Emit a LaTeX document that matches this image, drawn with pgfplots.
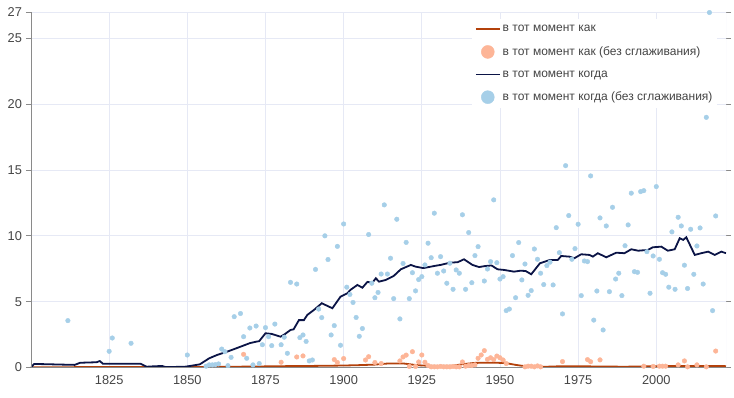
\documentclass[border=0pt]{standalone}
\usepackage{fontspec}
\setmainfont{Liberation Sans}
\usepackage{pgfplots}
\pgfplotsset{compat=1.18}
\definecolor{kakline}{HTML}{B3410B}
\definecolor{kakdot}{HTML}{FDB597}
\definecolor{kogline}{HTML}{0B1446}
\definecolor{kogdot}{HTML}{A6CFE8}
\definecolor{gridc}{HTML}{E6E9F5}
\definecolor{labgray}{HTML}{444444}
\definecolor{axgray}{HTML}{8A8A8A}
\begin{document}
\begin{tikzpicture}
\path[use as bounding box] (-31pt,-29.5pt) rectangle (703pt,367.5pt);
\begin{axis}[
  scale only axis, width=695pt, height=355.5pt,
  anchor=south west, at={(0pt,0pt)},
  xmin=1800, xmax=2022.3, ymin=0, ymax=27,
  axis line style={draw=none},
  xtick={1825,1850,1875,1900,1925,1950,1975,2000},
  ytick={0,5,10,15,20,25,27},
  grid=major, major grid style={color=gridc, line width=0.8pt},
  tick align=outside, major tick length=5pt,
  xtick style={draw=none},
  ytick style={color=axgray, line width=0.8pt},
  tick label style={font=\fontsize{12.8}{14}\selectfont, color=labgray},
  /pgf/number format/assume math mode=true,
  /pgf/number format/1000 sep={},
  yticklabel style={xshift=-0.5pt},
  legend cell align=left,
  legend style={at={(0.988,0.980)}, anchor=north east, draw=none, fill=white,
    font=\fontsize{12}{14}\selectfont, text=labgray, row sep=9.5pt,
    inner xsep=3pt, inner ysep=4pt},
]
\addplot[kakline, line width=1.8pt, legend image code/.code={\draw[kakline,line width=1.8pt] (0pt,0pt) -- (24pt,0pt);}] coordinates {
(1800,0) (1801,0.02) (1820,0.03) (1850,0.03) (1860,0.05) (1870,0.07) (1880,0.1) (1890,0.12) (1900,0.15) (1905,0.18) (1910,0.22) (1914,0.3) (1919,0.31) (1922,0.22) (1925,0.15) (1930,0.12) (1935,0.14) (1938,0.25) (1942,0.35) (1948,0.37) (1952,0.33) (1955,0.2) (1958,0.1) (1962,0.05) (1965,0.06) (1970,0.1) (1975,0.1) (1980,0.08) (1985,0.07) (1990,0.06) (1995,0.08) (2000,0.1) (2005,0.12) (2010,0.12) (2015,0.12) (2020,0.12) (2022.3,0.1)
};
\addlegendentry{в тот момент как}
\addplot[only marks, mark=*, mark size=2.3pt, color=kakdot, legend image code/.code={\fill[kakdot] (12pt,0pt) circle (6.5pt);}] coordinates {
(1868,1.0) (1880,0.4) (1885,0.8) (1887,0.88) (1897,0.6) (1898,0.38) (1900,0.68) (1907,0.57) (1908,0.82) (1910,0.38) (1912,0.3) (1918,0.5) (1919,0.8) (1920,0.94) (1921,0.08) (1922,1.2) (1923,0.08) (1924,0.42) (1925,0.95) (1926,0.4) (1927,0.15) (1928,0.05) (1929,0.05) (1930,0.05) (1931,0.08) (1932,0.05) (1933,0.05) (1934,0.05) (1935,0.08) (1936,0.05) (1937,0.05) (1938,0.42) (1939,0.1) (1940,0.15) (1941,0.15) (1942,0.2) (1943,0.7) (1944,0.95) (1945,1.28) (1946,0.62) (1947,0.74) (1948,0.6) (1949,0.87) (1950,0.74) (1951,0.57) (1952,0.3) (1958,0.05) (1959,0.1) (1960,0.1) (1961,0.05) (1962,0.12) (1963,0.05) (1970,0.45) (1978,0.6) (1979,0.44) (1982,0.58) (1996,0.1) (1999,0.08) (2001,0.1) (2002,0.1) (2003,0.1) (2007,0.2) (2009,0.5) (2010,0.05) (2013,0.2) (2016,0.05) (2019,1.25)
};
\addlegendentry{в тот момент как (без сглаживания)}
\addplot[kogline, line width=1.8pt, legend image code/.code={\draw[kogline,line width=1.8pt] (0pt,0pt) -- (24pt,0pt);}] coordinates {
(1800,0) (1801,0.27) (1805,0.25) (1810,0.22) (1814,0.2) (1815.7,0.36) (1821,0.4) (1822,0.49) (1823,0.29) (1835,0.29) (1837,0.06) (1840,0.1) (1842,0.11) (1843,0.04) (1849,0.05) (1851.5,0.14) (1854,0.24) (1857,0.7) (1859.5,0.95) (1862.7,1.2) (1865,1.4) (1867,1.58) (1870,1.85) (1872,1.96) (1873,2.0) (1875,2.6) (1877,2.55) (1879.8,2.34) (1881,2.5) (1883,2.85) (1884,2.9) (1885.7,3.6) (1887.3,3.6) (1888.4,4.0) (1890.5,4.37) (1893,4.88) (1896.4,4.5) (1899,5.38) (1901.2,5.64) (1902.2,5.9) (1904.4,6.27) (1906,6.06) (1907.6,6.5) (1909.2,6.44) (1910.3,6.78) (1911.3,6.52) (1913.5,6.65) (1916,6.95) (1918.3,7.46) (1921.5,7.79) (1923,7.66) (1925.5,7.55) (1927.9,7.66) (1929,7.71) (1931,7.79) (1934,7.96) (1936.5,8.0) (1938.5,8.22) (1941.2,7.79) (1943.3,7.63) (1945.4,7.71) (1947.3,7.75) (1949.2,7.46) (1951.3,7.41) (1954.5,7.28) (1956.5,7.35) (1958.2,7.33) (1960,7.08) (1962.8,7.92) (1966,8.17) (1968.5,8.17) (1969.6,8.47) (1972.2,8.42) (1973.8,8.3) (1976,8.6) (1978.6,8.55) (1979.7,8.42) (1981.3,8.68) (1984,8.37) (1987.2,8.72) (1989.8,8.68) (1992,8.98) (1994.2,8.87) (1997.3,8.93) (1998.9,9.13) (2001.6,9.18) (2003.7,8.87) (2005.9,8.98) (2007.5,9.82) (2008.6,9.69) (2009.6,9.89) (2012.3,8.55) (2014.4,8.68) (2016.6,8.8) (2018.7,8.55) (2020.8,8.8) (2022.3,8.68)
};
\addlegendentry{в тот момент когда}
\addplot[only marks, mark=*, mark size=2.3pt, color=kogdot, legend image code/.code={\fill[kogdot] (12pt,0pt) circle (6.5pt);}] coordinates {
(1811.8,3.56) (1825,1.23) (1826,2.24) (1832,1.84) (1850,0.95) (1856,0.1) (1857,0.2) (1858,0.2) (1859,0.22) (1860,0.27) (1861,1.4) (1862,1.2) (1863,0.14) (1864,0.77) (1865,3.86) (1867,4.1) (1868,2.34) (1869,0.7) (1870,3.0) (1871,0.2) (1872,3.15) (1873,0.3) (1874,1.73) (1875,3.03) (1876,2.34) (1877,1.66) (1878,3.3) (1880,1.73) (1881,2.3) (1882,1.08) (1883,6.47) (1885,6.34) (1886,2.27) (1887,2.47) (1888,1.98) (1889,0.5) (1890,0.57) (1891,7.45) (1892,4.44) (1893,3.79) (1894,10.0) (1895,8.2) (1896,2.47) (1897,3.18) (1898,9.2) (1899,1.69) (1900,10.9) (1901,6.1) (1902,5.55) (1903,4.94) (1904,3.8) (1905,2.37) (1906,2.96) (1908,10.1) (1909,6.4) (1910,5.3) (1911,5.7) (1912,7.1) (1913,12.35) (1914,7.1) (1915,8.3) (1916,5.23) (1917,11.26) (1918,3.69) (1919,7.9) (1920,9.5) (1921,5.23) (1922,7.2) (1923,5.82) (1924,6.68) (1925,6.9) (1926,7.79) (1927,9.44) (1928,8.34) (1929,11.72) (1930,7.16) (1931,8.42) (1932,7.33) (1933,6.4) (1934,7.92) (1935,5.94) (1936,7.41) (1937,7.16) (1938,11.6) (1939,5.94) (1940,10.25) (1941,6.44) (1942,8.5) (1943,9.18) (1945,6.57) (1946,7.48) (1947,8.04) (1948,12.73) (1949,7.96) (1950,6.72) (1951,6.9) (1952,4.32) (1953,4.44) (1954,8.5) (1955,5.3) (1956,9.49) (1957,6.65) (1958,7.86) (1959,5.48) (1960,5.84) (1961,9.0) (1962,8.22) (1963,7.16) (1964,6.3) (1965,7.74) (1966,8.0) (1967,6.27) (1968,10.62) (1969,8.72) (1970,4.07) (1971,15.33) (1972,11.54) (1973,8.22) (1974,9.03) (1975,10.88) (1976,5.46) (1977,8.09) (1978,8.04) (1979,14.55) (1980,3.6) (1981,5.81) (1982,11.36) (1983,2.85) (1984,10.75) (1985,5.76) (1986,12.17) (1987,6.72) (1988,7.16) (1989,5.46) (1990,9.25) (1991,10.83) (1992,13.24) (1993,7.28) (1994,7.23) (1995,13.36) (1996,13.43) (1997,8.8) (1998,5.64) (1999,8.47) (2000,13.74) (2001,8.22) (2002,7.2) (2003,7.08) (2004,6.1) (2005,10.3) (2006,5.94) (2007,11.41) (2008,10.75) (2009,7.77) (2010,6.0) (2011,10.5) (2012,7.08) (2013,9.23) (2014,10.6) (2015,6.34) (2016,19.0) (2017,26.96) (2018,4.32) (2019,11.51)
};
\addlegendentry{в тот момент когда (без сглаживания)}
\draw[gridc, line width=0.8pt] (rel axis cs:1,0) -- (rel axis cs:1,1);
\draw[axgray, line width=0.9pt] (rel axis cs:0,0) -- (rel axis cs:0,1);
\draw[axgray, line width=1.3pt] (rel axis cs:0,0) -- (rel axis cs:1,0);
\end{axis}
\end{tikzpicture}
\end{document}
